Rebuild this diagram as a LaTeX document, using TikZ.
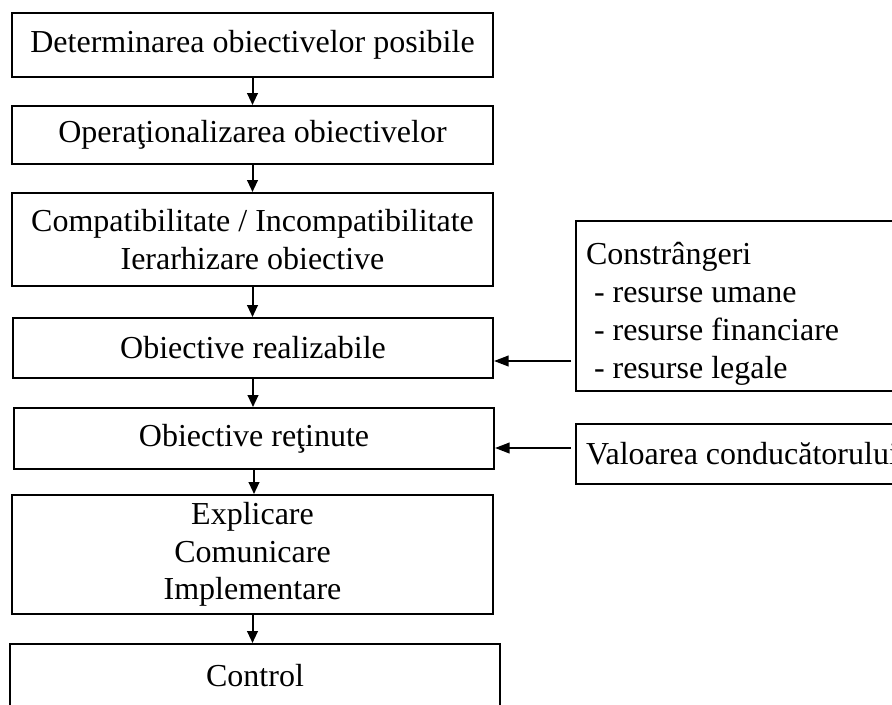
\documentclass[tikz,border=0pt]{standalone}
\usepackage{fontspec}
\setmainfont{Liberation Serif}
\usetikzlibrary{arrows.meta}

\tikzset{
  stage/.style={draw, line width=1.5pt, align=center, inner sep=0pt,
    minimum width=360.75pt, font=\fontsize{24}{28.2}\selectfont},
  sidebox/.style={draw, line width=1.5pt, anchor=north west, align=flush left,
    text width=300pt, inner xsep=7.5pt, inner ysep=0pt,
    font=\fontsize{24}{28.5}\selectfont},
  down/.style={line width=1.5pt, -{Triangle[length=9pt,width=8pt]}},
  feed/.style={line width=1.5pt, -{Triangle[length=11pt,width=8pt]}}
}

\begin{document}
\begin{tikzpicture}[x=0.75pt, y=-0.75pt]
  \useasboundingbox (0,0) rectangle (892,704);

  % main chain of stages
  \node[stage, minimum height=48pt]    (B1) at (252.5,45)    {Determinarea obiectivelor posibile};
  \node[stage, minimum height=43.5pt]  (B2) at (252.5,135)   {Operaţionalizarea obiectivelor};
  \node[stage, minimum height=69.75pt] (B3) at (252.5,239.5) {Compatibilitate / Incompatibilitate\\Ierarhizare obiective};
  \node[stage, minimum height=45pt, minimum width=360pt]    (B4) at (253,348)   {Obiective realizabile};
  \node[stage, minimum height=45.75pt, minimum width=360pt] (B5) at (254,438.5) {Obiective reţinute};
  \node[stage, minimum height=89.25pt] (B6) at (252.5,554.5) {Explicare\\Comunicare\\Implementare};
  \node[stage, minimum height=48pt, minimum width=367.5pt]  (B7) at (255,676)   {Control};

  % side inputs
  \node[sidebox, minimum height=127.5pt] (C) at (575,220)
    {\rule{0pt}{28pt}Constrângeri\\\hspace*{0.25em}- resurse umane\\\hspace*{0.25em}- resurse financiare\\\hspace*{0.25em}- resurse legale};
  \node[sidebox, minimum height=45pt] (V) at (575,423) {Valoarea conducătorului};

  % flow between stages
  \draw[down] (B1.south) -- (B1.south |- B2.north);
  \draw[down] (B2.south) -- (B2.south |- B3.north);
  \draw[down] (B3.south) -- (B3.south |- B4.north);
  \draw[down] (B4.south) -- (B4.south |- B5.north);
  \draw[down] (B5.south) -- (B5.south |- B6.north);
  \draw[down] (B6.south) -- (B6.south |- B7.north);

  % inputs feeding the stages
  \coordinate (h1) at (0,361);
  \coordinate (h2) at (0,448);
  \draw[feed] ([xshift=-3pt]h1 -| C.west) -- (h1 -| B4.east);
  \draw[feed] ([xshift=-3pt]h2 -| V.west) -- (h2 -| B5.east);
\end{tikzpicture}
\end{document}
